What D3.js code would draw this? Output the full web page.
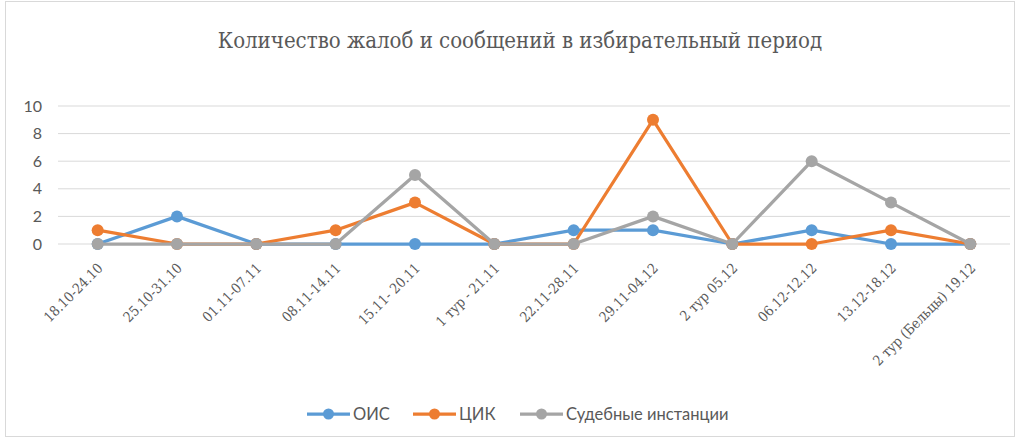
<!DOCTYPE html>
<html><head><meta charset="utf-8">
<script src="https://cdn.jsdelivr.net/npm/d3@7"></script>
<style>body{margin:0;background:#fff}svg{display:block}</style>
</head><body>
<svg id="c" width="1020" height="439"></svg>
<script>
const categories = ["18.10-24.10","25.10-31.10","01.11-07.11","08.11-14.11","15.11- 20.11","1 тур - 21.11","22.11-28.11","29.11-04.12","2 тур 05.12","06.12-12.12","13.12-18.12","2 тур (Бельцы) 19.12"];
const seriesNames = ["ОИС","ЦИК","Судебные инстанции"];
const ois = [0,2,0,0,0,0,1,1,0,1,0,0];
const cik = [1,0,0,1,3,0,0,9,0,0,1,0];
const courts = [0,0,0,0,5,0,0,2,0,6,3,0];
const yTicks = [0,2,4,6,8,10];
const colors = ["#5B9BD5","#ED7D31","#A5A5A5"];
const title = "Количество жалоб и сообщений в избирательный период";

const svg = d3.select("#c");
svg.append("rect").attr("x",5.5).attr("y",1.5).attr("width",1009).attr("height",435)
  .attr("fill","#fff").attr("stroke","#d9d9d9");

const m = {l:58, r:1010, t:106, b:244};
const x = d3.scaleBand().domain(categories).range([m.l, m.r]);
const y = d3.scaleLinear().domain([0,10]).range([m.b, m.t]);
const cx = d => x(d) + x.bandwidth()/2;

svg.append("text").attr("x",520).attr("y",48).attr("text-anchor","middle")
  .attr("font-family","DejaVu Serif Condensed, Liberation Serif, serif").attr("font-size",22)
  .attr("fill","#595959").text(title);

// grid
svg.append("g").selectAll("line").data(yTicks).join("line")
  .attr("x1",m.l).attr("x2",m.r).attr("y1",d=>y(d)).attr("y2",d=>y(d))
  .attr("stroke","#d9d9d9").attr("stroke-width",1);

const yAxis = d3.axisLeft(y).tickValues(yTicks).tickSize(0).tickPadding(0);
const gy = svg.append("g").attr("transform","translate(42,0)").call(yAxis);
gy.select(".domain").remove();
gy.selectAll("text").attr("font-family","Lato, Open Sans, sans-serif").attr("font-size",16).attr("fill","#595959");

const xAxis = d3.axisBottom(x).tickSize(0).tickPadding(0);
const gx = svg.append("g").attr("transform",`translate(0,${m.b})`).call(xAxis);
gx.select(".domain").remove();
gx.selectAll("text").attr("font-family","DejaVu Serif Condensed, Liberation Serif, serif").attr("font-size",14)
  .attr("fill","#595959").attr("text-anchor","end").attr("dy",0)
  .attr("transform","translate(6,25) rotate(-45)");

const data = [ois, cik, courts];
const line = d3.line().x((d,i)=>cx(categories[i])).y(d=>y(d));
data.forEach((s,k)=>{
  const g = svg.append("g");
  g.append("path").datum(s).attr("d",line).attr("fill","none").attr("stroke",colors[k])
    .attr("stroke-width",3.25).attr("stroke-linejoin","round");
  g.selectAll("circle").data(s).join("circle")
    .attr("cx",(d,i)=>cx(categories[i])).attr("cy",d=>y(d)).attr("r",6).attr("fill",colors[k]);
});

// legend
const legX = [307, 413, 520];
const lg = svg.append("g");
seriesNames.forEach((n,k)=>{
  const g = lg.append("g").attr("transform",`translate(${legX[k]},414)`);
  g.append("line").attr("x1",0).attr("x2",43).attr("stroke",colors[k]).attr("stroke-width",3.25);
  g.append("circle").attr("cx",21.5).attr("r",5.5).attr("fill",colors[k]);
  g.append("text").attr("x",46).attr("y",6).attr("font-family","Lato, Open Sans, sans-serif")
    .attr("font-size",16.5).attr("fill","#595959").text(n);
});
</script>
</body></html>
